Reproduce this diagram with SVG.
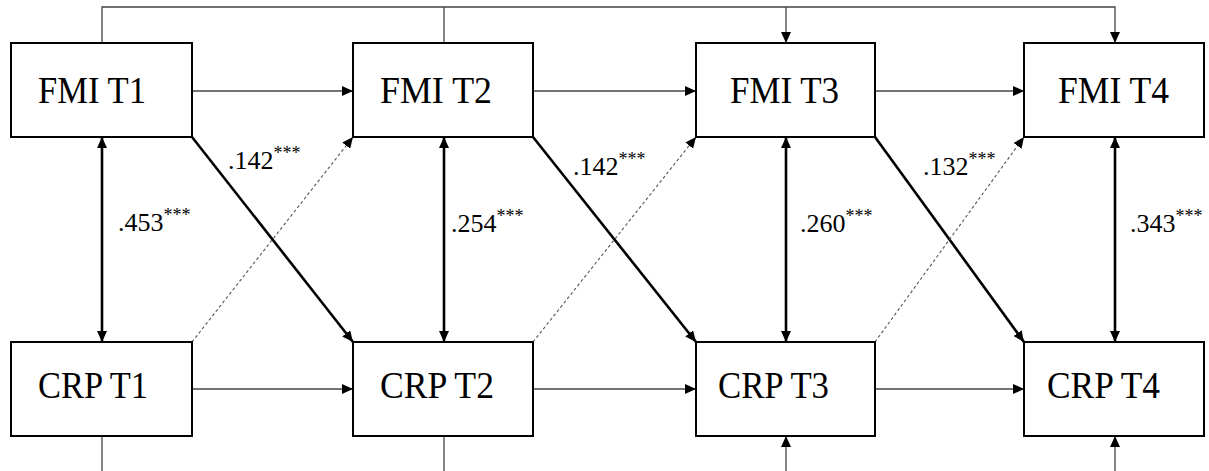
<svg xmlns="http://www.w3.org/2000/svg" width="1209" height="471" viewBox="0 0 1209 471">
<defs>
<marker id="ah" markerUnits="userSpaceOnUse" markerWidth="12" markerHeight="10" refX="11" refY="5" orient="auto">
<path d="M0,0 L11,5 L0,10 Z" fill="#000"/>
</marker>
<marker id="ahs" markerUnits="userSpaceOnUse" markerWidth="12" markerHeight="10" refX="1" refY="5" orient="auto">
<path d="M12,0 L1,5 L12,10 Z" fill="#000"/>
</marker>
</defs>
<style>
.box{fill:#fff;stroke:#000;stroke-width:2}
.lbl{font-family:"Liberation Serif","Times New Roman",serif;font-size:38px;fill:#000}
.coef{font-family:"Liberation Serif","Times New Roman",serif;font-size:26px;fill:#000}
.sup{font-size:18px}
.thin{fill:none;stroke:#444;stroke-width:1.3}
.thick{fill:none;stroke:#000;stroke-width:2.6}
.dash{fill:none;stroke:#555;stroke-width:1.1;stroke-dasharray:3,2.5}
</style>
<g id="connectors">
<polyline class="thin" points="102,43 102,7 1115,7 1115,43" marker-end="url(#ah)"/>
<line class="thin" x1="444" y1="43" x2="444" y2="7"/>
<line class="thin" x1="786" y1="7" x2="786" y2="43" marker-end="url(#ah)"/>
<line class="thin" x1="102" y1="436" x2="102" y2="471"/>
<line class="thin" x1="444" y1="436" x2="444" y2="471"/>
<line class="thin" x1="786" y1="471" x2="786" y2="436" marker-end="url(#ah)"/>
<line class="thin" x1="1115" y1="471" x2="1115" y2="436" marker-end="url(#ah)"/>
<line class="thin" x1="192" y1="91" x2="353" y2="91" marker-end="url(#ah)"/>
<line class="thin" x1="533" y1="91" x2="696" y2="91" marker-end="url(#ah)"/>
<line class="thin" x1="875" y1="91" x2="1024" y2="91" marker-end="url(#ah)"/>
<line class="thin" x1="192" y1="389" x2="353" y2="389" marker-end="url(#ah)"/>
<line class="thin" x1="533" y1="389" x2="696" y2="389" marker-end="url(#ah)"/>
<line class="thin" x1="875" y1="389" x2="1024" y2="389" marker-end="url(#ah)"/>
<line class="thick" x1="102" y1="137" x2="102" y2="342" marker-start="url(#ahs)" marker-end="url(#ah)"/>
<line class="thick" x1="444" y1="137" x2="444" y2="342" marker-start="url(#ahs)" marker-end="url(#ah)"/>
<line class="thick" x1="786" y1="137" x2="786" y2="342" marker-start="url(#ahs)" marker-end="url(#ah)"/>
<line class="thick" x1="1115" y1="137" x2="1115" y2="342" marker-start="url(#ahs)" marker-end="url(#ah)"/>
<line class="thick" x1="192" y1="137" x2="353" y2="342" marker-end="url(#ah)"/>
<line class="thick" x1="533" y1="137" x2="696" y2="342" marker-end="url(#ah)"/>
<line class="thick" x1="875" y1="137" x2="1024" y2="342" marker-end="url(#ah)"/>
<line class="dash" x1="192" y1="342" x2="353" y2="137" marker-end="url(#ah)"/>
<line class="dash" x1="533" y1="342" x2="696" y2="137" marker-end="url(#ah)"/>
<line class="dash" x1="875" y1="342" x2="1024" y2="137" marker-end="url(#ah)"/>
<text class="coef" x="228" y="169">.142<tspan class="sup" dy="-10">***</tspan></text>
<text class="coef" x="573" y="175">.142<tspan class="sup" dy="-10">***</tspan></text>
<text class="coef" x="923" y="175">.132<tspan class="sup" dy="-10">***</tspan></text>
<text class="coef" x="118" y="231">.453<tspan class="sup" dy="-10">***</tspan></text>
<text class="coef" x="451" y="232">.254<tspan class="sup" dy="-10">***</tspan></text>
<text class="coef" x="800" y="232">.260<tspan class="sup" dy="-10">***</tspan></text>
<text class="coef" x="1130" y="232">.343<tspan class="sup" dy="-10">***</tspan></text>
</g>
<g id="fmi_t1"><rect class="box" x="11" y="43" width="181" height="94"/><text class="lbl" x="38" y="103" textLength="108" lengthAdjust="spacingAndGlyphs">FMI T1</text></g>
<g id="fmi_t2"><rect class="box" x="353" y="43" width="180" height="94"/><text class="lbl" x="380" y="103" textLength="112" lengthAdjust="spacingAndGlyphs">FMI T2</text></g>
<g id="fmi_t3"><rect class="box" x="696" y="43" width="179" height="94"/><text class="lbl" x="730" y="103" textLength="109" lengthAdjust="spacingAndGlyphs">FMI T3</text></g>
<g id="fmi_t4"><rect class="box" x="1024" y="43" width="180" height="94"/><text class="lbl" x="1058" y="103" textLength="111" lengthAdjust="spacingAndGlyphs">FMI T4</text></g>
<g id="crp_t1"><rect class="box" x="11" y="342" width="181" height="94"/><text class="lbl" x="38" y="398" textLength="110" lengthAdjust="spacingAndGlyphs">CRP T1</text></g>
<g id="crp_t2"><rect class="box" x="353" y="342" width="180" height="94"/><text class="lbl" x="380" y="398" textLength="114" lengthAdjust="spacingAndGlyphs">CRP T2</text></g>
<g id="crp_t3"><rect class="box" x="696" y="342" width="179" height="94"/><text class="lbl" x="718" y="398" textLength="111" lengthAdjust="spacingAndGlyphs">CRP T3</text></g>
<g id="crp_t4"><rect class="box" x="1024" y="342" width="180" height="94"/><text class="lbl" x="1047" y="398" textLength="113" lengthAdjust="spacingAndGlyphs">CRP T4</text></g>
</svg>
